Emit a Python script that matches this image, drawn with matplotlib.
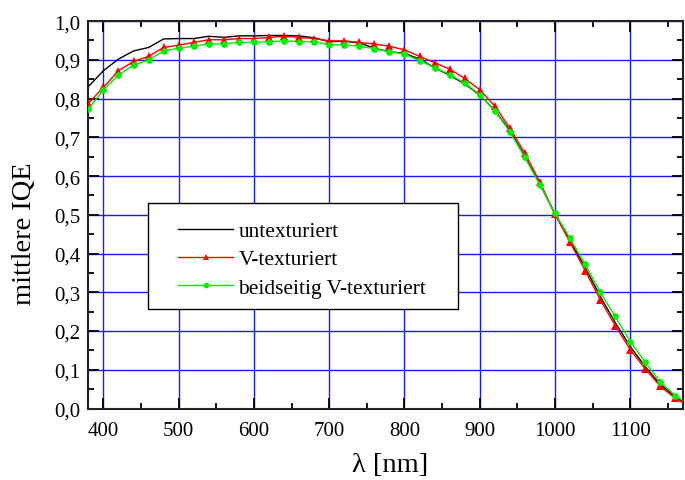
import matplotlib
matplotlib.use("Agg")
import matplotlib.pyplot as plt
from matplotlib.ticker import MultipleLocator, FuncFormatter
from matplotlib.patches import Rectangle

plt.rcParams['font.family'] = ['Liberation Serif', 'DejaVu Serif']

# Wavelength grid (nm)
wavelength = [380, 400, 420, 440, 460, 480, 500, 520, 540, 560, 580, 600, 620, 640,
              660, 680, 700, 720, 740, 760, 780, 800, 820, 840, 860, 880, 900, 920,
              940, 960, 980, 1000, 1020, 1040, 1060, 1080, 1100, 1120, 1140, 1160, 1180]

# Mean internal quantum efficiency per surface type
iqe_untexturiert = [0.831, 0.872, 0.902, 0.923, 0.932, 0.954, 0.955, 0.955, 0.961, 0.958,
                    0.962, 0.962, 0.963, 0.963, 0.962, 0.957, 0.947, 0.948, 0.944, 0.930,
                    0.921, 0.917, 0.902, 0.880, 0.860, 0.838, 0.809, 0.770, 0.717, 0.650,
                    0.579, 0.502, 0.433, 0.364, 0.290, 0.222, 0.160, 0.108, 0.062, 0.030,
                    0.006]
iqe_v_texturiert = [0.788, 0.829, 0.872, 0.896, 0.909, 0.932, 0.938, 0.945, 0.952, 0.952,
                    0.955, 0.955, 0.958, 0.961, 0.958, 0.955, 0.949, 0.949, 0.945, 0.941,
                    0.935, 0.926, 0.909, 0.893, 0.876, 0.852, 0.823, 0.781, 0.724, 0.659,
                    0.584, 0.502, 0.429, 0.356, 0.281, 0.214, 0.152, 0.102, 0.057, 0.026,
                    0.004]
iqe_beidseitig = [0.773, 0.823, 0.861, 0.886, 0.900, 0.923, 0.930, 0.935, 0.941, 0.941,
                  0.945, 0.945, 0.947, 0.949, 0.947, 0.947, 0.939, 0.939, 0.935, 0.929,
                  0.921, 0.915, 0.898, 0.880, 0.862, 0.840, 0.810, 0.769, 0.714, 0.648,
                  0.577, 0.5045, 0.439, 0.373, 0.300, 0.238, 0.173, 0.119, 0.069, 0.033,
                  0.008]

labels = ["untexturiert", "V-texturiert", "beidseitig V-texturiert"]
x_ticks = [400, 500, 600, 700, 800, 900, 1000, 1100]

fig = plt.figure(figsize=(6.85, 4.81), dpi=100)
ax = fig.add_axes([0.129, 0.1486, 0.868, 0.8054])

ax.plot(wavelength, iqe_untexturiert, color='black', lw=1.0, label=labels[0], zorder=3)
ax.plot(wavelength, iqe_v_texturiert, color='#ff0000', lw=1.0, marker='^', ms=5.2,
        markeredgewidth=0, label=labels[1], zorder=4)
ax.plot(wavelength, iqe_beidseitig, color='#00f000', lw=1.0, marker='o', ms=4.8,
        markeredgewidth=0, label=labels[2], zorder=5)

ax.set_xlim(380, 1170)
ax.set_ylim(0.0, 1.0)
ax.set_xticks(x_ticks)
ax.xaxis.set_minor_locator(MultipleLocator(50))
ax.yaxis.set_major_locator(MultipleLocator(0.1))
ax.yaxis.set_minor_locator(MultipleLocator(0.05))
ax.yaxis.set_major_formatter(FuncFormatter(lambda v, p: f"{v:.1f}".replace('.', ',')))

ax.grid(True, which='major', color='#1a1aff', lw=1.0, zorder=1)
ax.set_axisbelow(True)

ax.tick_params(which='both', direction='in', top=True, right=True, labelsize=15,
               width=1.3, colors='black')
ax.tick_params(axis='x', which='major', length=8, pad=9)
ax.tick_params(axis='y', which='major', length=8, pad=6)
ax.tick_params(which='minor', length=4)
for s in ax.spines.values():
    s.set_linewidth(1.5)
    s.set_color('#222222')

ax.set_xlabel("λ [nm]", fontsize=20.5)
ax.xaxis.set_label_coords(0.507, -0.113)
ax.set_ylabel("mittlere IQE", fontsize=20.5, va='center')
ax.yaxis.set_label_coords(-0.108, 0.454)

# Legend frame and entries
ax.add_patch(Rectangle((0.1009, 0.2568), 0.5213, 0.2727, transform=ax.transAxes,
                       facecolor='white', edgecolor='black', lw=1.0, zorder=6))
leg = ax.legend(loc='upper left', bbox_to_anchor=(0.1508, 0.484), borderaxespad=0,
                fontsize=15.4, numpoints=1, handlelength=2.57, handletextpad=0.25,
                borderpad=0, labelspacing=0.39, frameon=False, markerscale=0.85)
leg.set_zorder(7)

fig.savefig("out.png", dpi=100)
